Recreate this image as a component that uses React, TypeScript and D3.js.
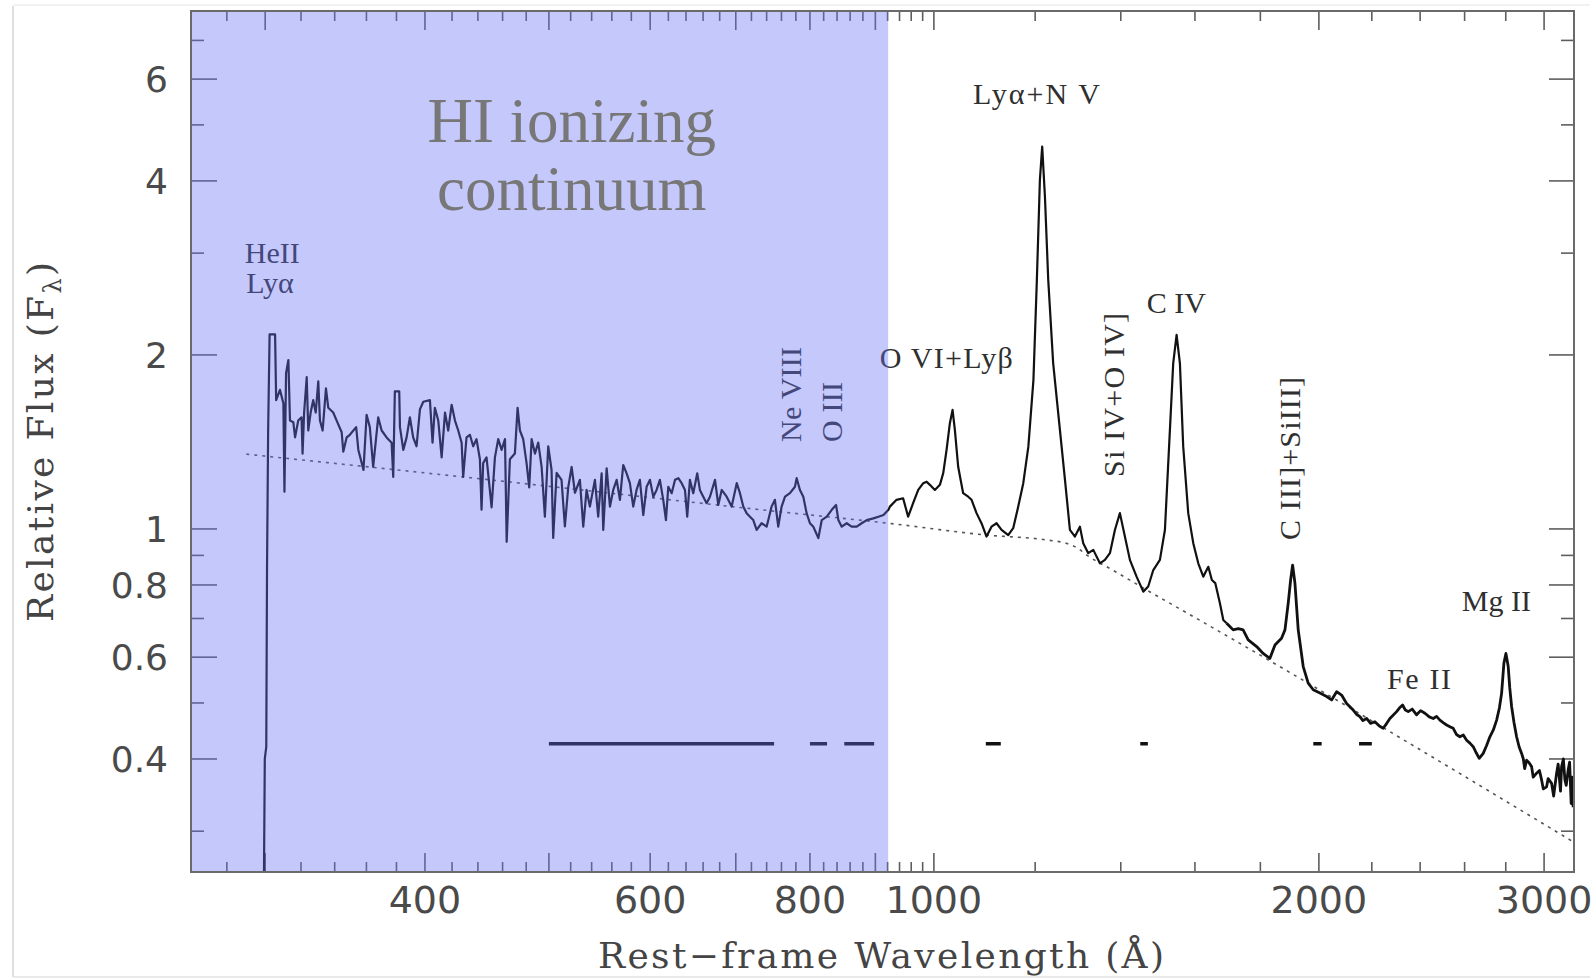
import React from 'react';
import * as d3 from 'd3';

const W = 1594;
const H = 980;
const plot = { left: 191, right: 1574, top: 11, bottom: 872 };
const xDomain: [number, number] = [262.5, 3166];
const yDomain: [number, number] = [0.255, 7.87];

// Composite quasar spectrum: [wavelength (Å), relative flux]
const euvSpectrum: [number, number][] = [
  [299.3, 0.24], [299.8, 0.40], [300.6, 0.42], [301.0, 0.85], [301.6, 1.47], [302.4, 2.17], [305.4, 2.17],
  [306, 1.67], [308.1, 1.74], [310, 1.65], [310.6, 1.16], [311.5, 1.86], [312.8, 1.96], [313.7, 1.54],
  [315.6, 1.53], [316.6, 1.44], [318.4, 1.54], [320.3, 1.56], [320.9, 1.35], [321.8, 1.59], [323.3, 1.83],
  [324.2, 1.48], [325.6, 1.59], [327.1, 1.67], [328.6, 1.59], [330.1, 1.80], [331.1, 1.54], [332.7, 1.48],
  [334.7, 1.75], [336.1, 1.62], [339.1, 1.59], [341.6, 1.53], [344.3, 1.47], [345.3, 1.36], [347.4, 1.44],
  [349.4, 1.455], [353.4, 1.50], [354.8, 1.37], [358.1, 1.265], [360.1, 1.575], [362.2, 1.50], [364.4, 1.28],
  [367.7, 1.56], [370, 1.48], [373.3, 1.44], [376.7, 1.41], [377.8, 1.23], [378.9, 1.73], [381.9, 1.73],
  [382.4, 1.50], [384.7, 1.37], [387, 1.44], [389.3, 1.56], [391.6, 1.44], [394, 1.39], [396.4, 1.61],
  [398.8, 1.66], [403.6, 1.67], [405.5, 1.41], [407.2, 1.62], [409.7, 1.54], [412.2, 1.33], [414.7, 1.59],
  [417.1, 1.48], [419.7, 1.64], [422.2, 1.54], [424.7, 1.48], [427.3, 1.41], [428.5, 1.23], [431.1, 1.44],
  [433.7, 1.455], [436.3, 1.39], [438.9, 1.43], [441.6, 1.32], [442.9, 1.08], [444.2, 1.30], [446.9, 1.33],
  [451, 1.09], [453.7, 1.33], [456.4, 1.43], [459.2, 1.37], [462, 1.43], [463.4, 0.95], [466.1, 1.32],
  [470.3, 1.35], [472.6, 1.62], [474.6, 1.48], [477.4, 1.43], [480.3, 1.30], [482.6, 1.18], [484.7, 1.43],
  [487.6, 1.35], [490.5, 1.41], [493.5, 1.28], [496.4, 1.05], [499.4, 1.39], [502.4, 1.265], [503.9, 0.965],
  [507, 1.25], [511.5, 1.216], [514.6, 1.01], [517.7, 1.18], [520.9, 1.28], [524, 1.155],
  [528.7, 1.216], [531.9, 1.009], [535.1, 1.168], [538.3, 1.093], [543.2, 1.216], [546.4, 1.05], [549.8, 1.248],
  [551.4, 0.996], [554.8, 1.273], [558.1, 1.093], [561.4, 1.168], [564.9, 1.216], [568.2, 1.123], [571.6, 1.29],
  [575.1, 1.248], [578.5, 1.20], [582, 1.093], [585.5, 1.168], [589, 1.216], [592.6, 1.057], [596.2, 1.183],
  [599.8, 1.216], [603.4, 1.137], [607, 1.168], [610.6, 1.216], [614.3, 1.123], [617.3, 1.036], [619.9, 1.183],
  [623.7, 1.153], [627.5, 1.216], [631.2, 1.224], [635, 1.20], [638.8, 1.168], [641.4, 1.05], [644.5, 1.216],
  [648.4, 1.153], [653.1, 1.248], [656.2, 1.168], [660.2, 1.137], [664.2, 1.108], [668.2, 1.137], [674.3, 1.216],
  [678.3, 1.10], [682.5, 1.168], [688.6, 1.137], [694.8, 1.093], [701.2, 1.20], [705.3, 1.153], [709.5, 1.093],
  [713.8, 1.065], [718.1, 1.05], [722.4, 1.036], [726.8, 0.996], [733.3, 1.023], [740, 1.009], [746.6, 1.093],
  [751.1, 1.123], [755.6, 1.009], [760.2, 1.093], [764.9, 1.137], [771.7, 1.153], [778.7, 1.183], [781.1, 1.224],
  [785.7, 1.168], [790.5, 1.137], [795.2, 1.065], [800, 1.023], [804.9, 1.009], [812.2, 0.964], [817.2, 1.036],
  [824.6, 1.05], [832, 1.079], [838.5, 1.10], [842, 1.036], [847.1, 1.009], [854.7, 1.023], [862.4, 1.009],
  [870.2, 1.009], [878.1, 1.023], [886.1, 1.036], [896.8, 1.043], [905, 1.05], [913.3, 1.057], [921.4, 1.079],
];

const fuvSpectrum: [number, number][] = [
  [923.8, 1.093], [935, 1.123], [946.1, 1.13], [954.7, 1.05], [963.3, 1.108], [972.2, 1.168], [981.1, 1.20],
  [987, 1.207], [992.8, 1.192], [1001.8, 1.168], [1010.9, 1.192], [1016.9, 1.248], [1023.1, 1.37], [1029.2, 1.524],
  [1034.2, 1.607], [1038.5, 1.484], [1044.7, 1.281], [1054.1, 1.153], [1063.7, 1.137], [1070.2, 1.123],
  [1079.8, 1.065], [1089.5, 1.023], [1099.4, 0.97], [1109.3, 1.009], [1119.4, 1.023], [1129.6, 0.996],
  [1143.2, 0.976], [1153.5, 1.003], [1164, 1.093], [1174.6, 1.20], [1185.4, 1.388], [1196.3, 1.811],
  [1203.7, 2.697], [1210.3, 4.017], [1215.3, 4.585], [1221.3, 3.76], [1228.6, 2.697], [1239.6, 1.934],
  [1254.7, 1.484], [1266.2, 1.216], [1277.5, 0.996], [1289.1, 0.97], [1300.7, 1.009], [1308.5, 0.945],
  [1320.4, 0.908], [1332.4, 0.92], [1348.4, 0.872], [1360.6, 0.884], [1372.9, 0.908], [1385.3, 0.996],
  [1397.8, 1.065], [1410.4, 0.97], [1423.2, 0.884], [1440.4, 0.827], [1457.9, 0.779], [1470.9, 0.795],
  [1484.4, 0.849], [1502.2, 0.884], [1515.8, 0.996], [1529.5, 1.484], [1538.6, 1.934], [1548, 2.166],
  [1557.3, 1.934], [1566.6, 1.388], [1580.8, 1.065], [1595.2, 0.945], [1609.6, 0.872], [1624.2, 0.827],
  [1639, 0.86], [1649.5, 0.816], [1659.6, 0.806], [1673.6, 0.744], [1683.8, 0.696], [1694, 0.687],
];

const nuvSpectrum: [number, number][] = [
  [1714, 0.669], [1730, 0.672], [1745, 0.669], [1761, 0.643], [1788, 0.626], [1809, 0.609], [1831, 0.597],
  [1848, 0.630], [1870, 0.647], [1881.5, 0.669], [1892.6, 0.744], [1900.8, 0.816], [1907.7, 0.866],
  [1915.6, 0.806], [1927, 0.669], [1944.4, 0.578], [1961.9, 0.541], [1979.7, 0.527], [2003.7, 0.520],
  [2028.1, 0.513], [2046.4, 0.506], [2064.9, 0.523], [2083.5, 0.516], [2102.4, 0.499], [2127.6, 0.486],
  [2140, 0.478], [2153.3, 0.4735], [2165, 0.466], [2179.5, 0.470], [2195, 0.461], [2212.3, 0.464],
  [2230, 0.456], [2245.6, 0.452], [2260, 0.461], [2272.8, 0.470], [2300.5, 0.483], [2312, 0.490],
  [2325.4, 0.496], [2337, 0.486], [2349, 0.483], [2366, 0.488], [2384.8, 0.477], [2402, 0.485],
  [2420.7, 0.480], [2440, 0.473], [2457.2, 0.470], [2472, 0.474], [2486.9, 0.467], [2503, 0.462],
  [2517.2, 0.458], [2532, 0.455], [2547.3, 0.452], [2562, 0.441], [2578.1, 0.437], [2594, 0.440],
  [2609.5, 0.431], [2625, 0.426], [2640.6, 0.420], [2655, 0.410], [2669.3, 0.401], [2688.6, 0.409],
  [2705, 0.422], [2721.1, 0.437], [2738, 0.449], [2754.3, 0.467], [2768, 0.490], [2779.2, 0.520],
  [2790.7, 0.586], [2800.8, 0.609], [2812.4, 0.578], [2820, 0.532], [2829.6, 0.493], [2842, 0.462],
  [2855.2, 0.437], [2868, 0.420], [2881, 0.409], [2890, 0.400], [2897, 0.385], [2907, 0.398],
  [2920, 0.394], [2933.3, 0.388], [2942, 0.372], [2959.9, 0.378], [2975, 0.382], [2986.6, 0.368],
  [2996, 0.355], [3013.6, 0.358], [3022, 0.370], [3040.9, 0.363], [3052, 0.345], [3068.4, 0.378],
  [3077, 0.392], [3090, 0.352], [3096.1, 0.388], [3106, 0.400], [3114.6, 0.368], [3122, 0.360],
  [3133, 0.383], [3141, 0.395], [3150, 0.335], [3156, 0.372], [3161, 0.330],
];

// dotted power-law continuum
const continuumFit: [number, number][] = [
  [290, 1.347], [428.5, 1.23], [760, 1.07], [921, 1.023], [1099, 0.976], [1225, 0.957],
  [1270, 0.944], [1295, 0.927], [1316, 0.902], [1381, 0.848], [1467, 0.784], [1605, 0.700], [3166, 0.287],
];

// wavelength windows used for the continuum fit
const continuumWindows: [number, number][] = [
  [500, 750], [800, 825], [851, 898], [1098, 1128], [1450, 1470], [1980, 2010], [2150, 2200],
];
const windowLevel = 0.425;
const ionizingEdge = 921;

const xTickLabels = [400, 600, 800, 1000, 2000, 3000];
const xMajorTicks = [300, 400, 500, 600, 700, 800, 900, 1000, 2000, 3000];
const xMinorTicks = [
  280, 320, 340, 360, 380, 420, 440, 460, 480, 520, 540, 560, 580, 620, 640, 660, 680,
  720, 740, 760, 780, 820, 840, 860, 880, 920, 940, 960, 980,
  1200, 1400, 1600, 1800, 2200, 2400, 2600, 2800,
];
const yTickLabels = [0.4, 0.6, 0.8, 1, 2, 4, 6];
const yMinorTicks = [0.3, 0.5, 0.7, 0.9, 3, 5, 7];

const lineLabels = [
  { text: 'Lyα+N V', lam: 1073, f: 5.43, rot: false, len: 127 },
  { text: 'C IV', lam: 1467, f: 2.364, rot: false, len: 0 },
  { text: 'O VI+Lyβ', lam: 907, f: 1.899, rot: false, len: 133 },
  { text: 'Mg II', lam: 2587, f: 0.721, rot: false, len: 0 },
  { text: 'Fe II', lam: 2261, f: 0.529, rot: false, len: 64 },
  { text: 'HeII', lam: 289.2, f: 2.885, rot: false, len: 0 },
  { text: 'Lyα', lam: 290, f: 2.56, rot: false, len: 0 },
  { text: 'Ne VIII', lam: 787, f: 1.414, rot: true, len: 95 },
  { text: 'O III', lam: 847, f: 1.414, rot: true, len: 60 },
  { text: 'Si IV+O IV]', lam: 1408, f: 1.23, rot: true, len: 164 },
  { text: 'C III]+SiIII]', lam: 1932, f: 0.957, rot: true, len: 163 },
];

export default function App() {
  const x = d3.scaleLog().domain(xDomain).range([plot.left, plot.right]);
  const y = d3.scaleLog().domain(yDomain).range([plot.bottom, plot.top]);
  const line = d3.line<[number, number]>().x(d => x(d[0])).y(d => y(d[1]));
  const smooth = d3.line<[number, number]>().x(d => x(d[0])).y(d => y(d[1])).curve(d3.curveMonotoneX);
  const uvSpectrum = [...euvSpectrum, ...fuvSpectrum];
  const nuvPath = [fuvSpectrum[fuvSpectrum.length - 1], ...nuvSpectrum];

  const tickColor = '#5e5e5e';
  const serif = '"Liberation Serif", "Times New Roman", serif';

  return (
    <svg width={W} height={H} viewBox={`0 0 ${W} ${H}`}
      style={{ position: 'absolute', left: 0, top: 0, display: 'block', background: '#fff' }}>
      <defs>
        <clipPath id="plotClip">
          <rect x={plot.left} y={plot.top} width={plot.right - plot.left} height={plot.bottom - plot.top} />
        </clipPath>
      </defs>
      <rect x={0} y={0} width={W} height={H} fill="#fff" />
      {/* faint outer frame */}
      <line x1={13} y1={6} x2={13} y2={977} stroke="#d4d4d4" strokeWidth={1.5} />
      <line x1={13} y1={977} x2={1590} y2={977} stroke="#e2e2e2" strokeWidth={1.5} />
      <line x1={13} y1={5} x2={1590} y2={5} stroke="#eeeeee" strokeWidth={1.5} />

      {/* ticks */}
      <g stroke={tickColor} strokeWidth={1.6}>
        {xMajorTicks.map(t => (
          <g key={'xM' + t}>
            <line x1={x(t)} x2={x(t)} y1={plot.bottom} y2={plot.bottom - 19} />
            <line x1={x(t)} x2={x(t)} y1={plot.top} y2={plot.top + 19} />
          </g>
        ))}
        {xMinorTicks.map(t => (
          <g key={'xm' + t}>
            <line x1={x(t)} x2={x(t)} y1={plot.bottom} y2={plot.bottom - 10} />
            <line x1={x(t)} x2={x(t)} y1={plot.top} y2={plot.top + 10} />
          </g>
        ))}
        {yTickLabels.map(t => (
          <g key={'yM' + t}>
            <line x1={plot.left} x2={plot.left + 26} y1={y(t)} y2={y(t)} />
            <line x1={plot.right} x2={plot.right - 25} y1={y(t)} y2={y(t)} />
          </g>
        ))}
        {yMinorTicks.map(t => (
          <g key={'ym' + t}>
            <line x1={plot.left} x2={plot.left + 13} y1={y(t)} y2={y(t)} />
            <line x1={plot.right} x2={plot.right - 13} y1={y(t)} y2={y(t)} />
          </g>
        ))}
      </g>

      <g clipPath="url(#plotClip)">
        <path d={smooth(continuumFit) || ''} fill="none" stroke="#555" strokeWidth={1.6} strokeDasharray="3 5" />
        <path d={line(uvSpectrum) || ''} fill="none" stroke="#111" strokeWidth={2.2} strokeLinejoin="round" />
        <path d={line(nuvPath) || ''} fill="none" stroke="#111" strokeWidth={2.8} strokeLinejoin="round" />
        {continuumWindows.map(([a, b]) => (
          <line key={'w' + a} x1={x(a)} x2={x(b)} y1={y(windowLevel)} y2={y(windowLevel)} stroke="#111" strokeWidth={3.5} />
        ))}
      </g>

      {/* emission line labels */}
      <g fontFamily={serif} fontSize={30} fill="#2f2f2f">
        {lineLabels.map(l => {
          const extra = l.len ? { textLength: l.len, lengthAdjust: 'spacing' } : {};
          return l.rot ? (
            <text key={l.text} transform={`translate(${x(l.lam)},${y(l.f)}) rotate(-90)`} textAnchor="start" {...extra}>{l.text}</text>
          ) : (
            <text key={l.text} x={x(l.lam)} y={y(l.f)} textAnchor="start" {...extra}>{l.text}</text>
          );
        })}
      </g>

      {/* ionizing continuum shading */}
      <rect x={plot.left} y={plot.top} width={x(ionizingEdge) - plot.left} height={plot.bottom - plot.top}
        fill="rgb(100,110,245)" fillOpacity={0.38} />

      {/* frame */}
      <rect x={plot.left} y={plot.top} width={plot.right - plot.left} height={plot.bottom - plot.top}
        fill="none" stroke="#6a6a6a" strokeWidth={2} />

      {/* tick labels */}
      <g fontFamily='"DejaVu Sans", sans-serif' fill="#4a4a4a">
        {xTickLabels.map(t => (
          <text key={'xl' + t} x={x(t)} y={913} textAnchor="middle" fontSize={38}>{t}</text>
        ))}
        {yTickLabels.map(t => (
          <text key={'yl' + t} x={168} y={y(t)} dy="0.36em" textAnchor="end" fontSize={36}>{t}</text>
        ))}
      </g>

      {/* axis titles */}
      <text x={881} y={968} textAnchor="middle" fontFamily='"DejaVu Serif", serif' fontSize={36} fill="#444"
        textLength={566} lengthAdjust="spacing">Rest−frame Wavelength (Å)</text>
      <text transform="translate(53,442) rotate(-90)" textAnchor="middle" fontFamily='"DejaVu Serif", serif'
        fontSize={36} fill="#444" textLength={360} lengthAdjust="spacing">
        Relative Flux (F<tspan fontSize={24} dy={8}>λ</tspan><tspan dy={-8}>)</tspan>
      </text>

      {/* region title */}
      <g fontFamily={serif} fontSize={63} fill="#777" textAnchor="middle">
        <text x={x(521)} y={y(4.674)}>HI ionizing</text>
        <text x={x(521)} y={y(3.564)}>continuum</text>
      </g>
    </svg>
  );
}
